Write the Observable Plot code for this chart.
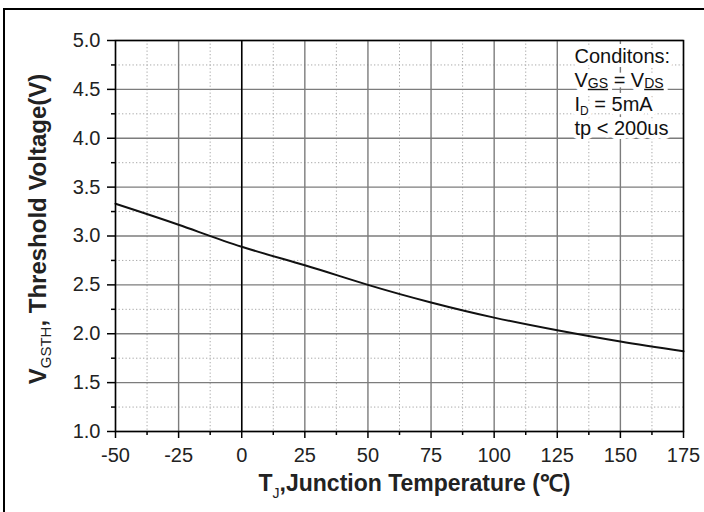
<!DOCTYPE html>
<html><head><meta charset="utf-8">
<script src="https://cdn.jsdelivr.net/npm/d3@7"></script>
<script src="https://cdn.jsdelivr.net/npm/@observablehq/plot@0.6"></script>
<style>
html,body{margin:0;padding:0;background:#fff;overflow:hidden;}
#wrap{position:relative;width:704px;height:512px;}
#border{position:absolute;left:3px;top:8px;width:780px;height:620px;border:2px solid #000;box-sizing:border-box;pointer-events:none;}
</style></head>
<body><div id="wrap"><div id="chart"></div><div id="border"></div></div>
<script>
// ---- data ----
const temps = [-50, -25, 0, 25, 50, 75, 100, 125, 150, 175];
const vth   = [3.33, 3.115, 2.89, 2.70, 2.50, 2.32, 2.165, 2.035, 1.92, 1.82];
const xMajor = [-50, -25, 0, 25, 50, 75, 100, 125, 150, 175];
const xMinor = [-37.5, -12.5, 12.5, 37.5, 62.5, 87.5, 112.5, 137.5, 162.5];
const yMajor = [1.0, 1.5, 2.0, 2.5, 3.0, 3.5, 4.0, 4.5, 5.0];
const yMinor = [1.25, 1.75, 2.25, 2.75, 3.25, 3.75, 4.25, 4.75];
const xTitle = "T_{J},Junction Temperature (℃)";
const yTitle = "V_{GSTH}, Threshold Voltage(V)";
const notes = ["Conditons:", "V_{GS} = V_{DS}", "I_{D} = 5mA", "tp < 200us"];

const data = temps.map((t, i) => ({t, v: vth[i]}));
const font = "'Liberation Sans', Arial, Helvetica, sans-serif";

const noteOpts = i => ({frameAnchor: "top-left", dx: 459, dy: 22 + i * 24.3,
  textAnchor: "start", lineAnchor: "bottom", fontSize: 20});
const noteHalos = notes.map((s, i) => Plot.text([s], {...noteOpts(i), fill: "#fff", stroke: "#fff", strokeWidth: 8}));
const noteTexts = notes.map((s, i) => Plot.text([s], {...noteOpts(i), fill: "#111"}));

const plot = Plot.plot({
  width: 704, height: 512,
  marginLeft: 115, marginRight: 21, marginTop: 40, marginBottom: 81,
  style: {fontFamily: font, fontSize: "20px", color: "#222", background: "transparent"},
  x: {domain: [-50, 175]},
  y: {domain: [1, 5]},
  marks: [
    Plot.gridX(xMinor, {stroke: "#a9a9a9", strokeOpacity: 1, strokeWidth: 1, strokeDasharray: "1.3,2.2"}),
    Plot.gridY(yMinor, {stroke: "#a9a9a9", strokeOpacity: 1, strokeWidth: 1, strokeDasharray: "1.3,2.2"}),
    Plot.gridX(xMajor, {stroke: "#7c7c7c", strokeOpacity: 1, strokeWidth: 1.4}),
    Plot.gridY(yMajor, {stroke: "#7c7c7c", strokeOpacity: 1, strokeWidth: 1.4}),
    Plot.ruleX([0], {stroke: "#000", strokeWidth: 1.5}),
    Plot.axisX(xMinor, {tickSize: 4, tickFormat: () => "", stroke: "#000", strokeWidth: 1.5, label: null}),
    Plot.axisX(xMajor, {tickSize: 7, tickPadding: 9, tickFormat: d => String(d), stroke: "#000", strokeWidth: 1.5, fill: "#222", fontSize: 20, label: null}),
    Plot.axisY(yMinor, {tickSize: 4, tickFormat: () => "", stroke: "#000", strokeWidth: 1.5, label: null}),
    Plot.axisY(yMajor, {tickSize: 8, tickPadding: 7, tickFormat: d => d.toFixed(1), stroke: "#000", strokeWidth: 1.5, fill: "#222", fontSize: 20, label: null}),
    Plot.line(data, {x: "t", y: "v", curve: "natural", stroke: "#111", strokeWidth: 2}),
    Plot.frame({stroke: "#000", strokeWidth: 1.5}),
    ...noteHalos,
    ...noteTexts,
    Plot.text([xTitle], {frameAnchor: "bottom", dx: 15, dy: 59, lineAnchor: "bottom", textAnchor: "middle",
      fontSize: 23, fontWeight: "bold", fill: "#222"}),
    Plot.text([yTitle], {frameAnchor: "left", rotate: -90, dx: -70, dy: -7, lineAnchor: "bottom", textAnchor: "middle",
      fontSize: 24, fontWeight: "bold", fill: "#222"})
  ]
});
document.getElementById("chart").appendChild(plot);

// rich text: subscripts written as _{...}
const subStyle = {
  "GS": {shift: 1, size: 14, underline: true},
  "DS": {shift: 1, size: 14, underline: true},
  "D": {shift: 4, size: 12},
  "J": {shift: 7, size: 14},
  "GSTH": {shift: 5, size: 15}
};
d3.select(plot).selectAll("text").each(function() {
  const s = this.textContent;
  if (!s || s.indexOf("_{") < 0) return;
  const parts = s.split(/(_\{[^}]*\})/).filter(p => p.length);
  this.textContent = "";
  let pending = 0;
  for (const p of parts) {
    const ts = document.createElementNS("http://www.w3.org/2000/svg", "tspan");
    if (p.startsWith("_{")) {
      const sub = p.slice(2, -1);
      const st = subStyle[sub] || {shift: 5, size: 13};
      ts.textContent = sub;
      ts.setAttribute("dy", st.shift + pending);
      ts.setAttribute("font-size", st.size);
      ts.setAttribute("font-weight", "normal");
      if (st.underline) ts.setAttribute("text-decoration", "underline");
      pending = -st.shift;
    } else {
      ts.textContent = p;
      if (pending) ts.setAttribute("dy", pending);
      pending = 0;
    }
    this.appendChild(ts);
  }
});
</script>
</body></html>
